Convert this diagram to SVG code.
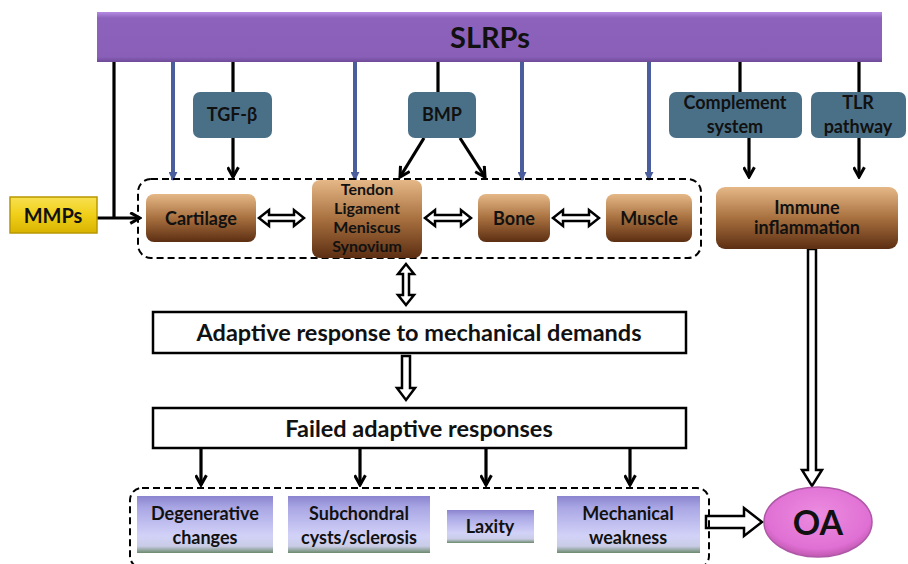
<svg xmlns="http://www.w3.org/2000/svg" width="908" height="564" viewBox="0 0 908 564">
<defs>
<linearGradient id="gBar" x1="0" y1="0" x2="0" y2="1">
<stop offset="0" stop-color="#B48AE2"/><stop offset="0.12" stop-color="#8C62BC"/><stop offset="0.9" stop-color="#895FB8"/><stop offset="1" stop-color="#6E4A98"/>
</linearGradient>
<linearGradient id="gBrown" x1="0" y1="0" x2="0" y2="1">
<stop offset="0" stop-color="#E6B887"/><stop offset="0.5" stop-color="#A8703F"/><stop offset="1" stop-color="#5C2E12"/>
</linearGradient>
<linearGradient id="gLav" x1="0" y1="0" x2="0" y2="1">
<stop offset="0" stop-color="#8A84CF"/><stop offset="0.2" stop-color="#A9A6E4"/><stop offset="0.7" stop-color="#D2D2F8"/><stop offset="0.88" stop-color="#C9CCE6"/><stop offset="1" stop-color="#6B8A6C"/>
</linearGradient>
<linearGradient id="gYel" x1="0" y1="0" x2="0" y2="1">
<stop offset="0" stop-color="#F8E050"/><stop offset="0.5" stop-color="#F0CF18"/><stop offset="1" stop-color="#D8B400"/>
</linearGradient>
<radialGradient id="gOA" cx="0.5" cy="0.4" r="0.6">
<stop offset="0" stop-color="#EC8CE0"/><stop offset="0.8" stop-color="#E070D4"/><stop offset="1" stop-color="#C058B0"/>
</radialGradient>
<marker id="ab" viewBox="0 0 12 12" refX="10" refY="6" markerWidth="13" markerHeight="13" markerUnits="userSpaceOnUse" orient="auto">
<path d="M1,1 L10,6 L1,11" fill="none" stroke="#000" stroke-width="2.8"/>
</marker>
<marker id="abl" viewBox="0 0 10 10" refX="9" refY="5" markerWidth="9" markerHeight="9" markerUnits="userSpaceOnUse" orient="auto">
<path d="M0,0 L10,5 L0,10 Z" fill="#4A5E9E"/>
</marker>
</defs>
<style>
text{font-family:Lato,"Open Sans","Liberation Sans",sans-serif;font-weight:bold;fill:#111;text-anchor:middle;}
.teal{fill:#4A7088;}
.brown{fill:url(#gBrown);}
.lav{fill:url(#gLav);}
.blk{stroke:#000;stroke-width:3.2;fill:none;}
.blue{stroke:#4A5E9E;stroke-width:4;fill:none;}
.hollow{fill:#fff;stroke:#000;stroke-width:2.5;stroke-linejoin:miter;}
.dash{fill:none;stroke:#000;stroke-width:2;stroke-dasharray:7,4;}
.wbox{fill:#fff;stroke:#000;stroke-width:2.5;}
.t18{font-size:18px;}
.t16{font-size:16px;}
.big{font-size:23.5px;}
</style>

<g id="connectors">
<path class="blk" d="M114,62 V218"/>
<path class="blk" d="M97,218 H140" marker-end="url(#ab)"/>
<path class="blue" d="M173,62 V180" marker-end="url(#abl)"/>
<path class="blue" d="M355,62 V180" marker-end="url(#abl)"/>
<path class="blue" d="M522,62 V180" marker-end="url(#abl)"/>
<path class="blue" d="M649,62 V180" marker-end="url(#abl)"/>
<path class="blk" d="M233,62 V92"/>
<path class="blk" d="M438,62 V92"/>
<path class="blk" d="M740,62 V92"/>
<path class="blk" d="M859,62 V92"/>
<path class="blk" d="M233,138 V177" marker-end="url(#ab)"/>
<path class="blk" d="M424,138 L400,177" marker-end="url(#ab)"/>
<path class="blk" d="M460,138 L485,177" marker-end="url(#ab)"/>
<path class="blk" d="M749,138 V177" marker-end="url(#ab)"/>
<path class="blk" d="M859,138 V177" marker-end="url(#ab)"/>
<path class="hollow" d="M259,218 L269,210 L269,215 L294,215 L294,210 L304,218 L294,226 L294,221 L269,221 L269,226 Z"/>
<path class="hollow" d="M425,218 L435,210 L435,215 L461,215 L461,210 L471,218 L461,226 L461,221 L435,221 L435,226 Z"/>
<path class="hollow" d="M553,218 L563,210 L563,215 L589,215 L589,210 L599,218 L589,226 L589,221 L563,221 L563,226 Z"/>
<path class="hollow" d="M406,264 L414,274 L409,274 L409,295 L414,295 L406,305 L398,295 L403,295 L403,274 L398,274 Z"/>
<path class="hollow" d="M402,356 L410,356 L410,388 L415,388 L406,400 L397,388 L402,388 Z"/>
<path class="blk" d="M201,448 V485" marker-end="url(#ab)"/>
<path class="blk" d="M360,448 V485" marker-end="url(#ab)"/>
<path class="blk" d="M486,448 V485" marker-end="url(#ab)"/>
<path class="blk" d="M630,448 V485" marker-end="url(#ab)"/>
<path class="hollow" d="M808,249 L816,249 L816,470 L822,470 L812,486 L802,470 L808,470 Z"/>
<path class="hollow" d="M706,516 L744,516 L744,508 L762,522 L744,536 L744,528 L706,528 Z"/>
</g>

<g id="slrps">
<rect x="97" y="12" width="785" height="50" fill="url(#gBar)"/>
<text x="490" y="48" style="font-size:29px">SLRPs</text>
</g>

<g id="mmps">
<rect x="10" y="197" width="87" height="36" fill="url(#gYel)" stroke="#B89800" stroke-width="1.5"/>
<text x="53" y="223" style="font-size:20px">MMPs</text>
</g>

<g id="tgfb">
<rect class="teal" x="193" y="92" width="79" height="46" rx="7"/>
<text x="232" y="121" class="t18">TGF-β</text>
</g>
<g id="bmp">
<rect class="teal" x="408" y="92" width="68" height="46" rx="7"/>
<text x="442" y="121" class="t18">BMP</text>
</g>
<g id="complement">
<rect class="teal" x="669" y="92" width="133" height="46" rx="7"/>
<text x="735" y="109" class="t18">Complement</text>
<text x="735" y="133" class="t18">system</text>
</g>
<g id="tlr">
<rect class="teal" x="811" y="92" width="95" height="46" rx="7"/>
<text x="858" y="109" class="t18">TLR</text>
<text x="858" y="133" class="t18">pathway</text>
</g>

<g id="tissue-group">
<rect class="dash" x="138" y="179" width="563" height="79" rx="13"/>
</g>
<g id="cartilage">
<rect class="brown" x="146" y="194" width="110" height="48" rx="8"/>
<text x="201" y="225" class="t18">Cartilage</text>
</g>
<g id="tendon">
<rect class="brown" x="312" y="180" width="110" height="78" rx="8"/>
<text x="367" y="195" class="t16">Tendon</text>
<text x="367" y="214" class="t16">Ligament</text>
<text x="367" y="233" class="t16">Meniscus</text>
<text x="367" y="252" class="t16">Synovium</text>
</g>
<g id="bone">
<rect class="brown" x="478" y="194" width="72" height="48" rx="8"/>
<text x="514" y="225" class="t18">Bone</text>
</g>
<g id="muscle">
<rect class="brown" x="606" y="194" width="86" height="48" rx="8"/>
<text x="649" y="225" class="t18">Muscle</text>
</g>
<g id="immune">
<rect class="brown" x="716" y="187" width="182" height="62" rx="9"/>
<text x="807" y="214" class="t18">Immune</text>
<text x="807" y="234" class="t18">inflammation</text>
</g>

<g id="adaptive">
<rect class="wbox" x="153" y="312" width="533" height="41"/>
<text x="419" y="341" class="big">Adaptive response to mechanical demands</text>
</g>
<g id="failed">
<rect class="wbox" x="153" y="408" width="533" height="40"/>
<text x="419" y="437" class="big">Failed adaptive responses</text>
</g>

<g id="outcome-group">
<rect class="dash" x="130" y="488" width="579" height="80" rx="12"/>
</g>
<g id="degenerative">
<rect class="lav" x="137" y="496" width="136" height="57"/>
<text x="205" y="520" class="t18">Degenerative</text>
<text x="205" y="544" class="t18">changes</text>
</g>
<g id="subchondral">
<rect class="lav" x="288" y="496" width="142" height="57"/>
<text x="359" y="520" class="t18">Subchondral</text>
<text x="359" y="544" class="t18">cysts/sclerosis</text>
</g>
<g id="laxity">
<rect class="lav" x="447" y="510" width="87" height="33"/>
<text x="490" y="533" class="t18">Laxity</text>
</g>
<g id="mechanical">
<rect class="lav" x="557" y="496" width="143" height="57"/>
<text x="628" y="520" class="t18">Mechanical</text>
<text x="628" y="544" class="t18">weakness</text>
</g>

<g id="oa">
<ellipse cx="818" cy="522" rx="54" ry="35" fill="url(#gOA)" stroke="#B058A8" stroke-width="1.5"/>
<text x="818" y="535" style="font-size:34px">OA</text>
</g>
</svg>
